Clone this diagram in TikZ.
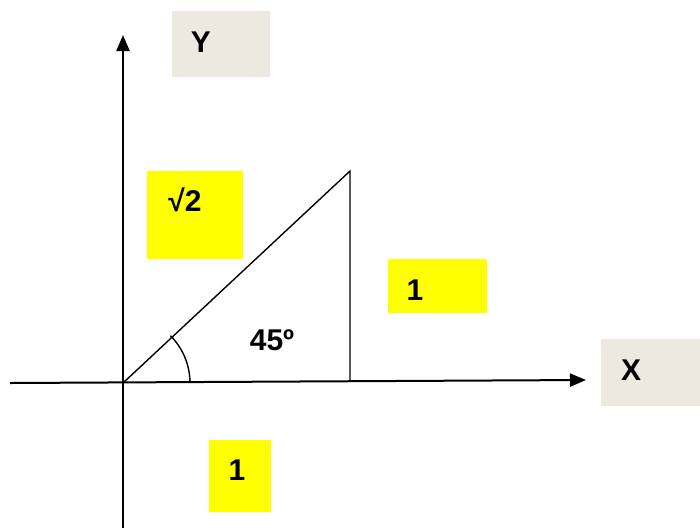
\documentclass[tikz,border=0pt]{standalone}
\usepackage{fontspec}
\setmainfont{Liberation Sans}
\usetikzlibrary{arrows.meta,calc}
\definecolor{boxgray}{HTML}{ECE9E0}
\definecolor{boxyellow}{HTML}{FFFF00}
\begin{document}
\begin{tikzpicture}[x=1pt,y=-1pt,
  lbl/.style={inner sep=0pt, font=\fontsize{30}{34}\selectfont\bfseries},
  graybox/.style={fill=boxgray, draw=none},
  yellowbox/.style={fill=boxyellow, draw=none},
  axis/.style={line width=2pt, -{Triangle[length=16pt,width=13pt]}},
  edge/.style={line width=1.4pt}]
\useasboundingbox (0,0) rectangle (700,528);
% boxes
\fill[graybox] (172,11) rectangle (270,77);
\fill[graybox] (601,339) rectangle (700,406);
\fill[yellowbox] (147,171) rectangle (243,259);
\fill[yellowbox] (388,259) rectangle (487,313);
\fill[yellowbox] (209,440) rectangle (271,512);
% labels
\node[lbl] (ylab) at (201,42) {Y};
\node[lbl] (xlab) at (631,370) {X};
\node[lbl] (hyp) at (185,200) {√2};
\node[lbl] (side) at (415,290) {1};
\node[lbl] (base) at (237,470) {1};
\node[lbl] (ang) at (272,340) {45º};
% points
\coordinate (O) at (123,383);
\coordinate (T) at (350,171);
\coordinate (F) at (350,382);
\coordinate (ybot) at (123,528);
\coordinate (ytop) at (123,35);
\coordinate (xl) at (10,383);
\coordinate (xr) at (586,380);
% axes
\draw[axis] (ybot) -- (ytop);
\draw[axis] (xl) -- (xr);
% triangle
\draw[edge] (O) -- (T) -- (F);
\draw[edge] ($(O)+(67,0)$) arc[start angle=0,end angle=-45,radius=67];
\end{tikzpicture}
\end{document}
